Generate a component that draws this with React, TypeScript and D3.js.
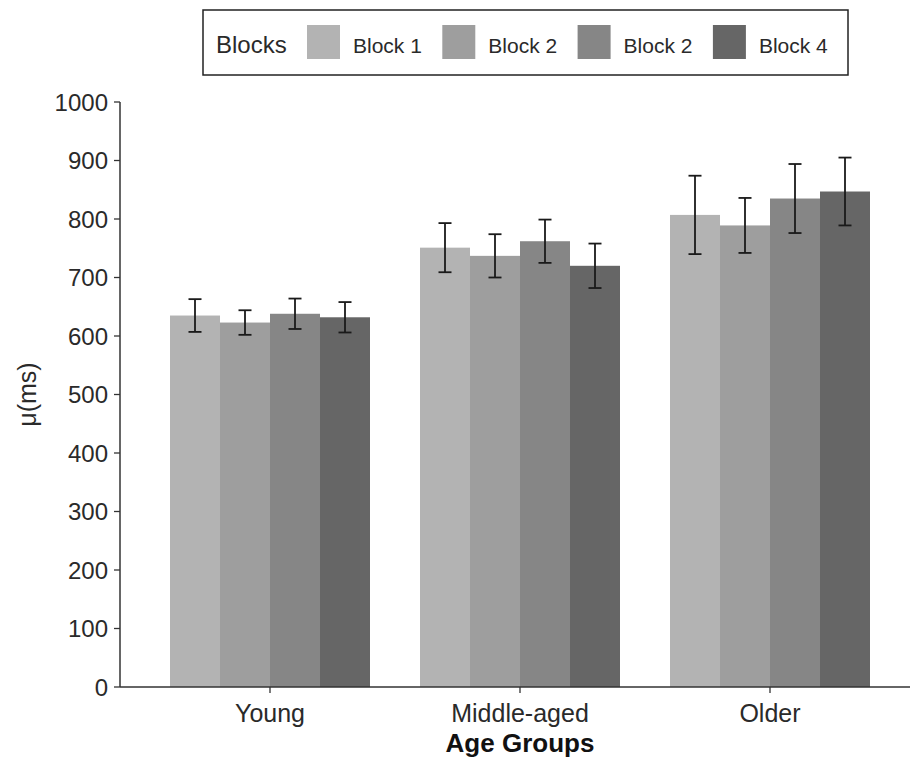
import React from "react";
import * as d3 from "d3";

const groups = ["Young", "Middle-aged", "Older"];
const blocks = ["Block 1", "Block 2", "Block 2 ", "Block 4"];
const blockLabels = ["Block 1", "Block 2", "Block 2", "Block 4"];
const colors = ["#b3b3b3", "#9e9e9e", "#868686", "#666666"];

// mean reaction time per block, one array per age group
const youngMeans = [635, 623, 638, 632];
const middleMeans = [751, 737, 762, 720];
const olderMeans = [807, 789, 835, 847];
// half-width of the error bars
const youngErr = [28, 21, 26, 26];
const middleErr = [42, 37, 37, 38];
const olderErr = [67, 47, 59, 58];

const yTicks = [0, 100, 200, 300, 400, 500, 600, 700, 800, 900, 1000];

const W = 910;
const H = 760;
const left = 120;
const top = 102;
const bottom = 687;

export default function App() {
  const means = [youngMeans, middleMeans, olderMeans];
  const errs = [youngErr, middleErr, olderErr];

  const y = d3.scaleLinear().domain([0, 1000]).range([bottom, top]);
  // discrete positions 1..3 with 0.6 expansion on each side
  const xc = d3.scaleLinear().domain([0.4, 3.6]).range([left, left + 800]);
  const groupWidth = 0.8;
  const inner = d3
    .scaleBand<number>()
    .domain(d3.range(blocks.length))
    .range([-groupWidth / 2, groupWidth / 2])
    .padding(0);

  const font = "'Liberation Sans', Arial, sans-serif";
  const textColor = "#2a2a2a";

  return (
    <svg
      width={W}
      height={H}
      style={{ position: "absolute", left: 0, top: 0, background: "#fff" }}
      fontFamily={font}
    >
      {/* bars */}
      {groups.map((g, gi) =>
        blocks.map((b, bi) => {
          const x0 = xc(gi + 1 + inner(bi)!);
          const x1 = xc(gi + 1 + inner(bi)! + inner.bandwidth());
          const v = means[gi][bi];
          return (
            <rect
              key={`${g}-${bi}`}
              x={x0}
              y={y(v)}
              width={x1 - x0}
              height={y(0) - y(v)}
              fill={colors[bi]}
            />
          );
        })
      )}
      {/* error bars */}
      {groups.map((g, gi) =>
        blocks.map((b, bi) => {
          const cx = xc(gi + 1 + inner(bi)! + inner.bandwidth() / 2);
          const v = means[gi][bi];
          const e = errs[gi][bi];
          const hw = 6.5;
          return (
            <g key={`e-${g}-${bi}`} stroke="#1a1a1a" strokeWidth={1.8}>
              <line x1={cx} x2={cx} y1={y(v + e)} y2={y(v - e)} />
              <line x1={cx - hw} x2={cx + hw} y1={y(v + e)} y2={y(v + e)} />
              <line x1={cx - hw} x2={cx + hw} y1={y(v - e)} y2={y(v - e)} />
            </g>
          );
        })
      )}
      {/* y axis */}
      <line x1={left} x2={left} y1={top} y2={bottom} stroke="#333" strokeWidth={1.5} />
      {yTicks.map((t) => (
        <g key={t}>
          <line x1={left - 6} x2={left} y1={y(t)} y2={y(t)} stroke="#333" strokeWidth={1.3} />
          <text
            x={left - 12}
            y={y(t)}
            dy="0.36em"
            textAnchor="end"
            fontSize={24}
            fill={textColor}
          >
            {t}
          </text>
        </g>
      ))}
      {/* x axis */}
      <line x1={left} x2={W} y1={bottom} y2={bottom} stroke="#333" strokeWidth={1.5} />
      {groups.map((g, gi) => (
        <g key={g}>
          <line
            x1={xc(gi + 1)}
            x2={xc(gi + 1)}
            y1={bottom}
            y2={bottom + 6}
            stroke="#333"
            strokeWidth={1.3}
          />
          <text x={xc(gi + 1)} y={bottom + 35} textAnchor="middle" fontSize={25} fill={textColor}>
            {g}
          </text>
        </g>
      ))}
      <text
        x={xc(2)}
        y={bottom + 65}
        textAnchor="middle"
        fontSize={26}
        fontWeight="bold"
        fill="#111"
      >
        Age Groups
      </text>
      <text
        transform={`translate(36, ${(top + bottom) / 2}) rotate(-90)`}
        textAnchor="middle"
        fontSize={25}
        fill={textColor}
      >
        μ(ms)
      </text>
      {/* legend */}
      <rect x={203} y={10} width={645} height={65} fill="#fff" stroke="#222" strokeWidth={1.5} />
      <text x={216} y={53} fontSize={24} fill={textColor}>
        Blocks
      </text>
      {blockLabels.map((lab, i) => {
        const kx = 307 + i * 135.3;
        return (
          <g key={`lg-${i}`}>
            <rect x={kx} y={25} width={33} height={34} fill={colors[i]} />
            <text x={kx + 46} y={53} fontSize={21} fill={textColor}>
              {lab}
            </text>
          </g>
        );
      })}
    </svg>
  );
}
